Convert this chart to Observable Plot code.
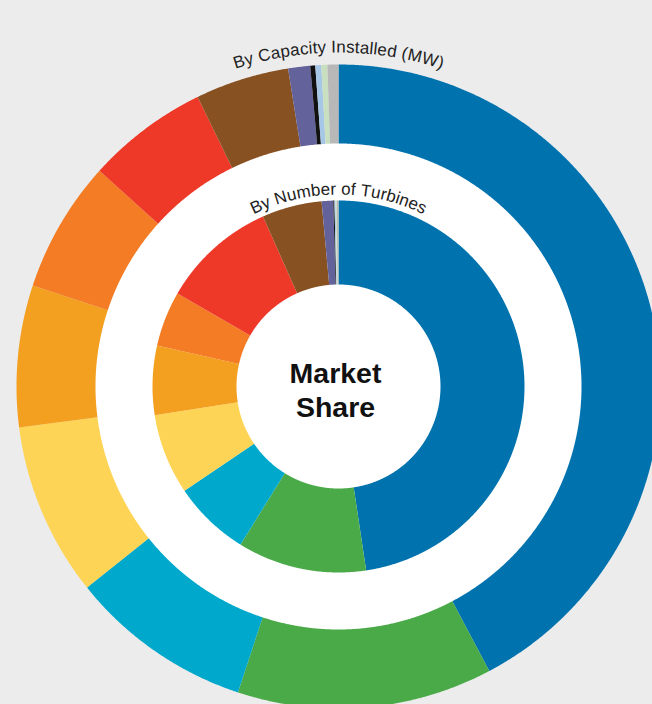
<!DOCTYPE html>
<html>
<head>
<meta charset="utf-8">
<script src="https://cdn.jsdelivr.net/npm/d3@7"></script>
<script src="https://cdn.jsdelivr.net/npm/@observablehq/plot@0.6"></script>
<style>
  html, body { margin: 0; padding: 0; background: #ececec; overflow: hidden; }
  #chart svg { display: block; }
</style>
</head>
<body>
<div id="chart"></div>
<script>
// ---- Data ----
const manufacturers = ["M01", "M02", "M03", "M04", "M05", "M06", "M07", "M08", "M09", "M10", "M11", "M12", "M13"];
const capacityShare = [42.2, 12.8, 9.2, 8.7, 7.1, 6.6, 6.1, 4.7, 1.1, 0.25, 0.3, 0.3, 0.55];
const turbineShare  = [47.6, 11.2, 6.7, 7.0, 6.0, 4.8, 10.0, 5.2, 1.0, 0.1, 0.1, 0.1, 0.15];
const sliceColors = ["#0073af", "#4aaa48", "#00a8cb", "#fed456", "#f3a021", "#f37c24", "#ee3928", "#875122", "#63629b", "#111111", "#a7c7e7", "#c8e0c0", "#b8b8b8"];
const ringTitles = ["By Capacity Installed (MW)", "By Number of Turbines"];
const centerTitle = ["Market", "Share"];

// ---- Layout ----
const W = 652, H = 704, cx = 338, cy = 386;
const family = '"Liberation Sans", Arial, Helvetica, sans-serif';
const titleSize = 17;
const rings = [
  {key: "capacity", values: capacityShare, r0: 243, r1: 322, title: ringTitles[0], titleR: 334, span: 36.1},
  {key: "turbines", values: turbineShare,  r0: 102, r1: 186, title: ringTitles[1], titleR: 192, span: 52.6}
];

// ---- Slice polygons from d3.pie angles ----
const pie = d3.pie().sort(null).startAngle(0).endAngle(2 * Math.PI);
const polys = [];
for (const ring of rings) {
  pie(ring.values).forEach((a, i) => {
    const n = Math.max(2, Math.ceil((a.endAngle - a.startAngle) / 0.004));
    const key = ring.key + "-" + i;
    const pts = [];
    for (let k = 0; k <= n; k++) {
      const t = a.startAngle + (a.endAngle - a.startAngle) * k / n;
      pts.push([ring.r1 * Math.sin(t), ring.r1 * Math.cos(t)]);
    }
    for (let k = n; k >= 0; k--) {
      const t = a.startAngle + (a.endAngle - a.startAngle) * k / n;
      pts.push([ring.r0 * Math.sin(t), ring.r0 * Math.cos(t)]);
    }
    pts.forEach(([x, y]) => polys.push({key, name: manufacturers[i], x, y}));
  });
}

// ---- Curved titles: one text per character along an arc ----
const ctx = document.createElement("canvas").getContext("2d");
ctx.font = `${titleSize}px ${family}`;
const chars = [];
for (const ring of rings) {
  const letters = [...ring.title];
  const widths = letters.map(c => ctx.measureText(c).width);
  const total = d3.sum(widths);
  const L = ring.span * Math.PI / 180 * ring.titleR;
  const k = L / total;
  let acc = -L / 2;
  letters.forEach((c, i) => {
    const w = widths[i] * k;
    const ang = (acc + w / 2) / ring.titleR;
    acc += w;
    if (c !== " ") chars.push({c, x: ring.titleR * Math.sin(ang), y: ring.titleR * Math.cos(ang), rotate: ang * 180 / Math.PI});
  });
}

const plot = Plot.plot({
  width: W,
  height: H,
  margin: 0,
  x: {domain: [-cx, W - cx], axis: null},
  y: {domain: [cy - H, cy], axis: null},
  color: {domain: manufacturers, range: sliceColors},
  style: {background: "#ececec"},
  marks: [
    Plot.dot([{x: 0, y: 0}], {x: "x", y: "y", r: rings[0].r0 + 1, fill: "white"}),
    Plot.line(polys, {x: "x", y: "y", z: "key", fill: "name", stroke: "none", curve: "linear"}),
    Plot.text(chars, {x: "x", y: "y", text: "c", rotate: "rotate", fontSize: titleSize, fontFamily: family, fill: "#222", lineAnchor: "bottom", textAnchor: "middle"}),
    Plot.text(centerTitle, {x: () => -3, y: (d, i) => 3.3 - i * 34, text: d => d, fontSize: 28.5, fontWeight: "bold", fontFamily: family, fill: "#111", lineAnchor: "bottom", textAnchor: "middle"})
  ]
});
document.getElementById("chart").appendChild(plot);
</script>
</body>
</html>
